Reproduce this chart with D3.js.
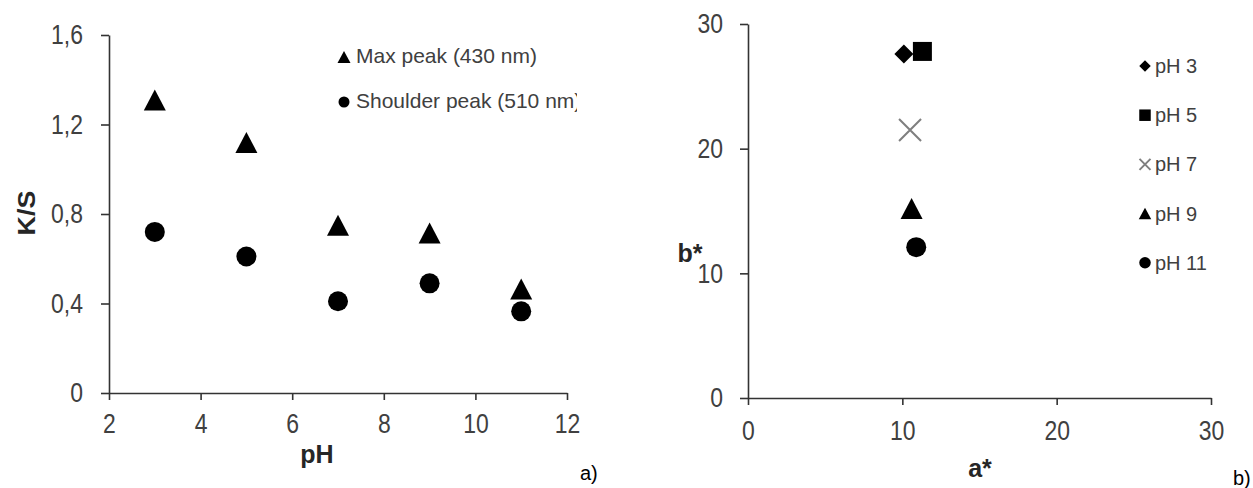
<!DOCTYPE html>
<html>
<head>
<meta charset="utf-8">
<script src="https://cdn.jsdelivr.net/npm/d3@7"></script>
<style>
  body { margin: 0; background: #fff; }
  svg { display: block; }
  .tick text { font-family: "Liberation Sans", Arial, sans-serif; font-size: 28px; fill: #404040; }
  .tick line, .domain { stroke: #333; stroke-width: 1.6; }
</style>
</head>
<body>
<script>
// a) K/S vs pH
var phValues = [3, 5, 7, 9, 11];
var maxPeak = [1.31, 1.12, 0.75, 0.715, 0.465];
var shoulderPeak = [0.72, 0.61, 0.41, 0.49, 0.365];
var ksTicks = [0, 0.4, 0.8, 1.2, 1.6];
var phTicks = [2, 4, 6, 8, 10, 12];
var seriesNames = ["Max peak (430 nm)", "Shoulder peak (510 nm)"];

// b) a* / b*
var colorLabels = ["pH 3", "pH 5", "pH 7", "pH 9", "pH 11"];
var colorShapes = ["diamond", "square", "cross", "triangle", "circle"];
var aStar = [10.1, 11.3, 10.5, 10.6, 10.9];
var bStar = [27.6, 27.8, 21.5, 15.2, 12.1];
var abTicks = [0, 10, 20, 30];

var W = 1253, H = 488;
var narrow = 0.82; // tick labels are a condensed face

var svg = d3.select("body").append("svg")
    .attr("width", W)
    .attr("height", H)
    .attr("viewBox", "0 0 " + W + " " + H);

// marker paths, centred on the bounding box
function shapePath(type, s) {
    var h = s / 2;
    if (type == "triangle")
        return "M0," + (-h) + "L" + (h + 0.5) + "," + h + "L" + (-h - 0.5) + "," + h + "Z";
    if (type == "square")
        return "M" + (-h) + "," + (-h) + "h" + s + "v" + s + "h" + (-s) + "Z";
    if (type == "diamond")
        return "M0," + (-h) + "L" + h + ",0L0," + h + "L" + (-h) + ",0Z";
    if (type == "cross")
        return "M" + (-h) + "," + (-h) + "L" + h + "," + h + "M" + h + "," + (-h) + "L" + (-h) + "," + h;
    // circle
    return "M" + h + ",0A" + h + "," + h + " 0 1,1 " + (-h) + ",0A" + h + "," + h + " 0 1,1 " + h + ",0Z";
}

function drawMarker(g, type, x, y, s) {
    var p = g.append("path")
        .attr("transform", "translate(" + x + "," + y + ")")
        .attr("d", shapePath(type, s));
    if (type == "cross")
        p.attr("fill", "none").attr("stroke", "#7f7f7f").attr("stroke-width", 2);
    else
        p.attr("fill", "#000");
    return p;
}

// squeeze tick labels horizontally, keeping their anchor in place
function condense(axisG, offsetX) {
    axisG.selectAll(".tick text")
        .attr("transform", "scale(" + narrow + ",1)")
        .attr("x", offsetX / narrow);
}

var commaFmt = function(d) { return d == 0 ? "0" : d3.format(".1f")(d).replace(".", ","); };

// ---------- chart a ----------
var xA = d3.scaleLinear().domain([2, 12]).range([109, 567]);
var yA = d3.scaleLinear().domain([0, 1.6]).range([393, 35]);

var gA = svg.append("g");

var axA = gA.append("g")
    .attr("transform", "translate(0," + yA(0) + ")")
    .call(d3.axisBottom(xA).tickValues(phTicks).tickSize(7).tickSizeOuter(0).tickPadding(13));
condense(axA, 0);

var ayA = gA.append("g")
    .attr("transform", "translate(" + xA(2) + ",0)")
    .call(d3.axisLeft(yA).tickValues(ksTicks).tickFormat(commaFmt).tickSize(8).tickSizeOuter(0).tickPadding(18));
condense(ayA, -26);

phValues.forEach(function(p, i) {
    drawMarker(gA, "triangle", xA(p), yA(maxPeak[i]), 21);
    drawMarker(gA, "circle", xA(p), yA(shoulderPeak[i]), 20);
});

// legend a (last label is cut off in the original)
svg.append("clipPath").attr("id", "clipA")
    .append("rect").attr("x", 0).attr("y", 0).attr("width", 577).attr("height", H);

var legA = gA.append("g").attr("clip-path", "url(#clipA)");
["triangle", "circle"].forEach(function(t, i) {
    var cy = 57 + i * 45;
    drawMarker(legA, t, 344, cy, t == "triangle" ? 12 : 11);
    legA.append("text")
        .attr("x", 356)
        .attr("y", cy + 6)
        .attr("font-family", "Liberation Sans, Arial, sans-serif")
        .attr("font-size", 21)
        .attr("fill", "#404040")
        .text(seriesNames[i]);
});

gA.append("text")
    .attr("transform", "translate(35,213) rotate(-90) scale(1.12,1)")
    .attr("text-anchor", "middle")
    .attr("font-family", "Liberation Sans, Arial, sans-serif")
    .attr("font-weight", "bold")
    .attr("font-size", 24)
    .attr("fill", "#262626")
    .text("K/S");

gA.append("text")
    .attr("x", 317).attr("y", 463)
    .attr("text-anchor", "middle")
    .attr("font-family", "Liberation Sans, Arial, sans-serif")
    .attr("font-weight", "bold")
    .attr("font-size", 25)
    .attr("fill", "#262626")
    .text("pH");

gA.append("text")
    .attr("x", 580).attr("y", 480)
    .attr("font-family", "Liberation Sans, Arial, sans-serif")
    .attr("font-size", 20)
    .attr("fill", "#000")
    .text("a)");

// ---------- chart b ----------
var xB = d3.scaleLinear().domain([0, 30]).range([748, 1211]);
var yB = d3.scaleLinear().domain([0, 30]).range([398, 24]);

var gB = svg.append("g");

var axB = gB.append("g")
    .attr("transform", "translate(0," + yB(0) + ")")
    .call(d3.axisBottom(xB).tickValues(abTicks).tickSize(7).tickSizeOuter(0).tickPadding(15));
condense(axB, 0);

var ayB = gB.append("g")
    .attr("transform", "translate(" + xB(0) + ",0)")
    .call(d3.axisLeft(yB).tickValues(abTicks).tickSize(8).tickSizeOuter(0).tickPadding(17));
condense(ayB, -25);

var markSize = { diamond: 19, square: 19, cross: 22, triangle: 21, circle: 20 };
colorLabels.forEach(function(lab, i) {
    var t = colorShapes[i];
    drawMarker(gB, t, xB(aStar[i]), yB(bStar[i]), markSize[t]);

    var cy = 66 + i * 49.2;
    drawMarker(gB, t, 1145, cy, t == "cross" ? 11 : 11.5);
    gB.append("text")
        .attr("x", 1155)
        .attr("y", cy + 7)
        .attr("font-family", "Liberation Sans, Arial, sans-serif")
        .attr("font-size", 20)
        .attr("fill", "#404040")
        .text(lab);
});

gB.append("text")
    .attr("x", 690).attr("y", 262)
    .attr("text-anchor", "middle")
    .attr("font-family", "Liberation Sans, Arial, sans-serif")
    .attr("font-weight", "bold")
    .attr("font-size", 25)
    .attr("fill", "#262626")
    .text("b*");

gB.append("text")
    .attr("x", 980).attr("y", 477)
    .attr("text-anchor", "middle")
    .attr("font-family", "Liberation Sans, Arial, sans-serif")
    .attr("font-weight", "bold")
    .attr("font-size", 25)
    .attr("fill", "#262626")
    .text("a*");

gB.append("text")
    .attr("x", 1233).attr("y", 485)
    .attr("font-family", "Liberation Sans, Arial, sans-serif")
    .attr("font-size", 20)
    .attr("fill", "#000")
    .text("b)");
</script>
</body>
</html>
